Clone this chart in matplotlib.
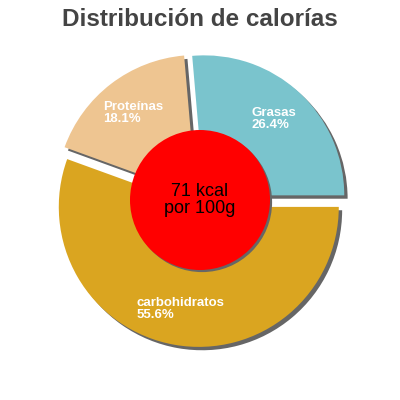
import matplotlib
matplotlib.use("Agg")
import matplotlib.pyplot as plt
from matplotlib.patches import Circle

plt.rcParams['font.family'] = ['Liberation Sans', 'DejaVu Sans']

# values
names = ["Grasas", "carbohidratos", "Proteínas"]
percents = [26.4, 55.6, 18.1]
colors = ["#7ac4cd", "#daa520", "#eec591"]
explode = [0.045, 0.05, 0.045]
title = "Distribución de calorías"
center_text = "71 kcal\npor 100g"

start = percents[0] / sum(percents) * 360  # grasas ends at 3 o'clock
shadow_off = 0.024
shadow_col = "#666666"

fig = plt.figure(figsize=(4, 4), dpi=100)
ax = fig.add_axes([0, 0, 1, 1])

# shadow pie underneath
ax.pie(percents, colors=[shadow_col] * 3, explode=explode, startangle=start,
       counterclock=False, center=(shadow_off, -shadow_off),
       wedgeprops=dict(linewidth=0))

labels = [f"{n}\n{p}%" for n, p in zip(names, percents)]
ax.pie(percents, colors=colors, explode=explode, startangle=start,
       counterclock=False, labels=labels, labeldistance=0.74,
       wedgeprops=dict(linewidth=0),
       textprops=dict(color="white", fontsize=9.5, fontweight="bold",
                      ha="center", va="center",
                      multialignment="left", linespacing=0.95))

ax.add_patch(Circle((0.015, -0.015), 0.5, color=shadow_col, lw=0, zorder=3))
ax.add_patch(Circle((0, 0), 0.5, color="#ff0000", lw=0, zorder=4))
ax.text(0, 0, center_text, ha="center", va="center", fontsize=13,
        color="black", zorder=5, linespacing=0.95)

lim = 200 / 140
ax.set_xlim(-lim, lim)
ax.set_ylim(-lim, lim)
ax.set_aspect("equal")
ax.axis("off")

fig.text(0.5, 1 - 20 / 400, title, ha="center", va="center",
         fontsize=17.5, fontweight="bold", color="#444444")

fig.savefig("out.png", dpi=100)
